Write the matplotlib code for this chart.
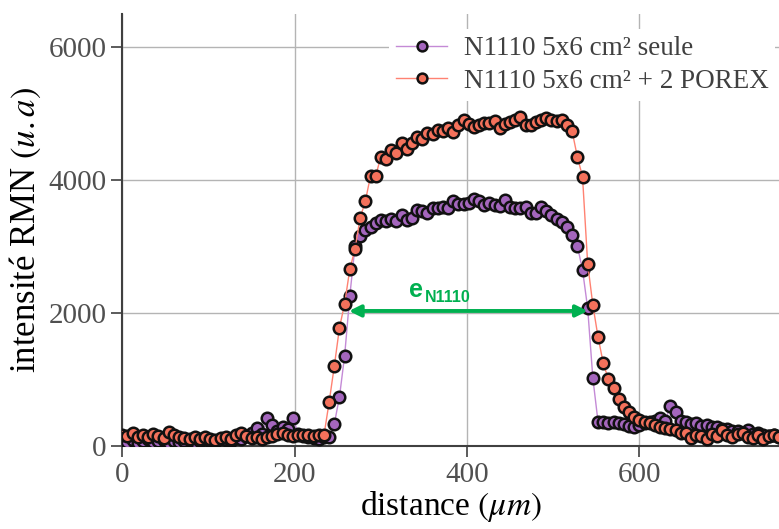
import matplotlib
matplotlib.use("Agg")
import matplotlib.pyplot as plt
import numpy as np

plt.rcParams.update({
    'font.family': 'serif',
    'font.serif': ['Liberation Serif', 'DejaVu Serif'],
    'mathtext.fontset': 'stix',
    'axes.edgecolor': '#404040',
    'xtick.color': '#404040',
    'ytick.color': '#404040',
    'xtick.labelcolor': '#505050',
    'ytick.labelcolor': '#505050',
})

# distance grid (um)
distance = [
    0, 6, 12, 18, 24, 30, 36, 42, 48, 54, 60, 66, 72, 78, 84, 90,
    96, 102, 108, 114, 120, 126, 132, 138, 144, 150, 156, 162, 168, 174, 180, 186,
    192, 198, 204, 210, 216, 222, 228, 234, 240, 246, 252, 258, 264, 270, 276, 282,
    288, 294, 300, 306, 312, 318, 324, 330, 336, 342, 348, 354, 360, 366, 372, 378,
    384, 390, 396, 402, 408, 414, 420, 426, 432, 438, 444, 450, 456, 462, 468, 474,
    480, 486, 492, 498, 504, 510, 516, 522, 528, 534, 540, 546, 552, 558, 564, 570,
    576, 582, 588, 594, 600, 606, 612, 618, 624, 630, 636, 642, 648, 654, 660, 666,
    672, 678, 684, 690, 696, 702, 708, 714, 720, 726, 732, 738, 744, 750, 756, 762,
]

# N1110 alone
seule = [
    80, 60, 90, 50, 70, 100, 60, 80, 90, 50, 70, 60, 80, 90, 60, 70,
    100, 80, 60, 110, 90, 70, 120, 100, 150, 200, 270, 180, 415, 315, 220, 285,
    250, 425, 180, 150, 130, 120, 110, 140, 130, 330, 740, 1360, 2260, 3000, 3150, 3250,
    3300, 3350, 3400, 3380, 3420, 3390, 3470, 3400, 3430, 3550, 3540, 3510, 3580, 3580, 3590, 3580,
    3680, 3640, 3640, 3660, 3710, 3690, 3630, 3650, 3630, 3610, 3700, 3600, 3580, 3580, 3590, 3500,
    3500, 3590, 3530, 3470, 3420, 3370, 3300, 3180, 3010, 2650, 2070, 1020, 365, 365, 350, 360,
    340, 330, 300, 290, 320, 340, 365, 380, 415, 380, 600, 505, 380, 365, 330, 340,
    300, 320, 280, 290, 260, 250, 230, 220, 200, 240, 180, 190, 160, 150, 170, 140,
]

# N1110 + 2 POREX
porex = [
    160, 150, 190, 140, 170, 130, 180, 150, 120, 210, 170, 140, 120, 110, 130, 100,
    140, 110, 90, 120, 140, 100, 160, 200, 150, 120, 140, 100, 130, 150, 180, 200,
    170, 150, 160, 170, 160, 150, 170, 160, 660, 1200, 1780, 2140, 2660, 2960, 3430, 3680,
    4060, 4060, 4350, 4310, 4450, 4400, 4560, 4460, 4560, 4650, 4620, 4700, 4690, 4750, 4740, 4780,
    4720, 4830, 4900, 4840, 4800, 4820, 4860, 4850, 4880, 4780, 4840, 4870, 4900, 4950, 4830, 4830,
    4870, 4900, 4930, 4900, 4880, 4900, 4830, 4730, 4350, 4050, 2740, 2120, 1640, 1250, 1000, 870,
    700, 590, 515, 440, 390, 365, 340, 315, 290, 270, 250, 240, 200, 190, 120, 170,
    150, 110, 180, 150, 240, 160, 130, 180, 195, 140, 120, 160, 110, 150, 165, 130,
]

labels = ['N1110 5x6 cm² seule', 'N1110 5x6 cm² + 2 POREX']

# thickness arrow (e_N1110)
e_left, e_right, e_level = 263, 540, 2030

fig = plt.figure(figsize=(7.79, 5.29), dpi=100)
ax = fig.add_axes([0.157, 0.157, 0.843, 0.817])

ax.plot(distance, seule, 'o-', color='#c48ad6', markerfacecolor='#a466bd',
        markeredgecolor='#111111', markersize=8.3, markeredgewidth=1.8,
        linewidth=1.0, label=labels[0], zorder=3)
ax.plot(distance, porex, 'o-', color='#ff8272', markerfacecolor='#f4715b',
        markeredgecolor='#111111', markersize=8.3, markeredgewidth=1.8,
        linewidth=1.0, label=labels[1], zorder=4)

ax.annotate('', xy=(e_left, e_level), xytext=(e_right, e_level),
            arrowprops=dict(arrowstyle='<|-|>', color='#00b050', lw=2.8,
                            mutation_scale=17, shrinkA=0, shrinkB=0), zorder=5)
ax.text(333, 2240, 'e', color='#00b050', fontsize=18, fontweight='bold',
        family='Liberation Sans', va='baseline', zorder=6)
ax.text(351, 2170, 'N1110', color='#00b050', fontsize=11.5, fontweight='bold',
        family='Liberation Sans', va='baseline', zorder=6)

ax.set_xlim(0, 762)
ax.set_ylim(0, 6500)
ax.set_xticks([0, 200, 400, 600])
ax.set_yticks([0, 2000, 4000, 6000])
ax.tick_params(labelsize=21, length=8, width=1.2, direction='out')
ax.grid(True, color='#b4b4b4', linewidth=1.0)
ax.set_axisbelow(True)
for s in ['top', 'right']:
    ax.spines[s].set_visible(False)
for s in ['left', 'bottom']:
    ax.spines[s].set_linewidth(1.5)

ax.set_xlabel(r'distance $(\mu m)$', fontsize=24, labelpad=1)
ax.set_ylabel(r'intensité RMN $(u.a)$', fontsize=25, labelpad=4)

leg = ax.legend(loc='upper right', bbox_to_anchor=(1.015, 0.995), fontsize=19.5,
                frameon=True, framealpha=1, edgecolor='none', facecolor='white',
                fancybox=False, markerscale=0.85, handlelength=1.9,
                handletextpad=0.6, labelspacing=0.28, borderpad=0.25)
for t in leg.get_texts():
    t.set_color('#404040')

fig.savefig('out.png', dpi=100)
